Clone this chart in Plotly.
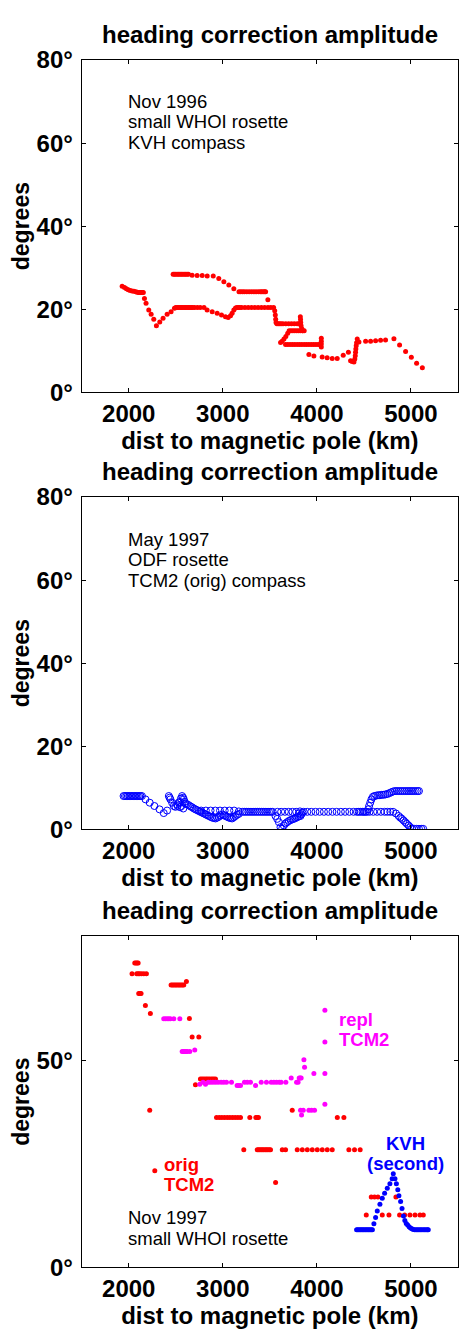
import plotly.graph_objects as go

# ---------------- Panel 1: Nov 1996, KVH compass ----------------
x1 = [1930, 1955, 1975, 1995, 2015, 2035, 2055, 2075, 2090, 2105, 2115, 2125, 2135, 2145, 2155,
      2167, 2184, 2213, 2238, 2266, 2294, 2330, 2365, 2408, 2450, 2486,
      2500, 2515, 2530, 2545, 2560, 2575, 2590, 2605, 2620, 2635, 2650, 2665, 2680, 2700, 2730, 2760, 2800,
      2833, 2887, 2940, 2986, 3028, 3057, 3082, 3099, 3117, 3135,
      3150, 3165, 3180, 3200, 3235, 3270, 3305, 3340, 3375, 3410, 3445, 3480, 3510, 3540,
      3552, 3558, 3562, 3566, 3575, 3590, 3605, 3620, 3640, 3670, 3700, 3730, 3760, 3790, 3810,
      3824, 3826, 3828, 3832, 3840, 3850, 3865, 3845, 3825, 3805, 3785, 3765, 3745, 3725, 3705,
      3690, 3670, 3650, 3630, 3614,
      3667, 3690, 3715, 3740, 3765, 3790, 3815, 3840, 3865, 3890, 3915, 3940, 3965, 3990, 4015, 4035,
      4047, 4047, 4047, 4047,
      3915, 3968, 4056, 4109, 4163, 4216, 4280, 4335, 4358, 4375, 4394, 4403, 4408, 4411, 4414, 4418, 4422, 4429, 4447,
      4518, 4571, 4624, 4677, 4730, 4819, 4879, 4943, 5004, 5060, 5121,
      2472, 2485, 2500, 2515, 2530, 2545, 2560, 2575, 2590, 2605, 2620, 2635,
      2674, 2727, 2781, 2834, 2898, 2957, 3011, 3064, 3117, 3172,
      3190, 3210, 3230, 3255, 3280, 3305, 3330, 3355, 3380, 3400, 3415, 3430, 3445, 3455, 3479]
y1 = [25.5, 25.2, 24.9, 24.7, 24.5, 24.4, 24.3, 24.2, 24.1, 24.0, 24.0, 24.0, 24.0, 24.0, 24.0,
      22.6, 21.4, 19.8, 18.8, 17.6, 16.0, 16.9, 17.8, 18.8, 19.4, 20.2,
      20.4, 20.4, 20.4, 20.4, 20.4, 20.4, 20.4, 20.4, 20.4, 20.4, 20.4, 20.4, 20.4, 20.4, 20.4, 20.4, 20.4,
      19.8, 19.4, 19.0, 18.6, 18.2, 18.0, 18.4, 19.0, 19.8, 20.3,
      20.4, 20.4, 20.4, 20.4, 20.4, 20.4, 20.4, 20.4, 20.4, 20.4, 20.4, 20.4, 20.4, 20.4,
      19.6, 18.6, 17.6, 16.8, 16.5, 16.5, 16.5, 16.5, 16.5, 16.5, 16.5, 16.5, 16.5, 16.5, 16.5,
      18.2, 17.5, 16.8, 16.0, 15.3, 14.8, 14.8, 14.8, 14.8, 14.8, 14.8, 14.8, 14.8, 14.8, 14.8,
      14.2, 13.4, 12.8, 12.3, 12.0,
      11.5, 11.5, 11.5, 11.5, 11.5, 11.5, 11.5, 11.5, 11.5, 11.5, 11.5, 11.5, 11.5, 11.5, 11.5, 11.5,
      10.9, 11.6, 12.3, 13.0,
      9.1, 8.7, 8.5, 8.3, 8.1, 8.1, 8.9, 9.6, 7.6, 7.4, 7.3, 8.0, 8.8, 9.6, 10.4, 11.2, 11.9, 12.8, 12.1,
      12.3, 12.3, 12.4, 12.5, 12.6, 12.9, 11.4, 9.8, 8.4, 7.0, 5.9,
      28.4, 28.4, 28.4, 28.4, 28.4, 28.4, 28.4, 28.4, 28.4, 28.4, 28.4, 28.4,
      28.2, 28.1, 28.1, 28.0, 28.0, 27.4, 26.6, 25.8, 24.9, 24.2,
      24.2, 24.2, 24.2, 24.2, 24.2, 24.2, 24.2, 24.2, 24.2, 24.2, 24.2, 24.2, 24.2, 24.2, 22.3]

# ---------------- Panel 2: May 1997, TCM2 (orig) compass ----------------
x2 = [1945, 1960, 1975, 1990, 2005, 2020, 2035, 2050, 2065, 2080, 2095, 2110, 2125, 2140,
      2178, 2223, 2273, 2327, 2372,
      2408, 2426, 2435, 2443, 2461, 2479, 2496, 2514, 2530, 2543, 2555, 2567, 2578, 2585, 2595, 2603,
      2520, 2545, 2560, 2580,
      2620, 2638, 2656, 2674, 2692, 2709, 2727, 2745, 2762, 2780, 2798, 2816, 2833, 2851, 2869, 2887,
      2905, 2922, 2940, 2957, 2975, 2993, 3010, 3028, 3046, 3064, 3082, 3099, 3117, 3135, 3152, 3170,
      2770, 2820, 2870, 2920, 2970, 3020, 3070, 3120, 3170, 3210,
      3230, 3250, 3270, 3290, 3310, 3330, 3350, 3370, 3390, 3410, 3430, 3450, 3470, 3490, 3510, 3530,
      3560, 3578, 3596, 3613, 3631, 3649, 3666, 3684, 3702, 3720, 3738, 3755, 3773, 3791, 3808, 3826,
      3810, 3820, 3835, 3845,
      3580, 3620, 3660, 3700, 3740, 3780,
      3860, 3898, 3940, 3985, 4030, 4075, 4120, 4165, 4210, 4255, 4300, 4345, 4390, 4426, 4445, 4465,
      4485, 4500, 4515, 4532,
      4545, 4555, 4567, 4580, 4595, 4610, 4630, 4650, 4670, 4690, 4710, 4730, 4750, 4770, 4790, 4810,
      4830, 4850, 4870, 4890, 4910, 4930, 4950, 4970, 4990, 5010, 5030, 5050, 5070, 5085,
      4560, 4600, 4640, 4680, 4720, 4750, 4780, 4810, 4840, 4869, 4887, 4904, 4922, 4940, 4957, 4975,
      4993, 5011, 5035, 5060, 5085, 5110, 5130]
y2 = [8.0, 8.0, 8.0, 8.0, 8.0, 8.0, 8.0, 8.0, 8.0, 8.0, 8.0, 8.0, 8.0, 8.0,
      7.2, 6.4, 5.6, 4.8, 3.9,
      4.5, 8.0, 7.6, 7.2, 6.4, 5.6, 5.4, 6.0, 6.4, 6.6, 7.4, 8.0, 7.6, 7.2, 6.6, 6.2,
      5.6, 5.3, 5.6, 5.0,
      6.0, 5.8, 5.5, 5.3, 5.0, 4.8, 4.6, 4.4, 4.2, 4.0, 3.8, 3.6, 3.4, 3.2, 3.0, 2.8,
      2.7, 2.6, 2.8, 3.0, 3.3, 3.6, 3.4, 3.2, 3.0, 2.8, 2.7, 2.6, 2.9, 3.2, 3.5, 3.7,
      4.5, 4.5, 4.5, 4.5, 4.5, 4.5, 4.5, 4.5, 4.3, 4.2,
      4.2, 4.2, 4.2, 4.2, 4.2, 4.2, 4.2, 4.2, 4.2, 4.2, 4.2, 4.2, 4.2, 4.2, 4.2, 4.2,
      3.2, 2.5, 1.7, 0.5, 0.1, 0.9, 1.4, 1.7, 2.0, 2.2, 2.4, 2.5, 2.7, 2.9, 3.1, 3.2,
      3.8, 4.3, 3.6, 4.0,
      4.2, 4.2, 4.2, 4.2, 4.2, 4.2,
      4.2, 4.2, 4.2, 4.2, 4.2, 4.2, 4.2, 4.2, 4.2, 4.2, 4.2, 4.2, 4.2, 4.2, 4.2, 4.2,
      4.2, 4.2, 4.2, 4.2,
      4.8, 5.6, 6.4, 7.2, 7.8, 8.0, 8.1, 8.2, 8.2, 8.3, 8.3, 8.4, 8.5, 8.7, 8.9, 9.1,
      9.2, 9.2, 9.2, 9.2, 9.2, 9.2, 9.2, 9.2, 9.2, 9.2, 9.2, 9.2, 9.2, 9.2,
      4.2, 4.2, 4.2, 4.2, 4.2, 4.2, 4.2, 4.2, 3.8, 3.2, 2.8, 2.5, 2.1, 1.7, 1.3, 0.9,
      0.5, 0.1, 0.1, 0.1, 0.1, 0.1, 0.1]

# ---------------- Panel 3: Nov 1997 ----------------
# orig TCM2 (red)
x3r = [2064, 2077, 2089, 2100,
       2035, 2085, 2100, 2115, 2135, 2160, 2188,
       2106, 2118, 2131, 2177, 2230,
       2450, 2465, 2480, 2495, 2510, 2525, 2540, 2555, 2570, 2585, 2613,
       2645, 2674, 2745, 2709,
       2762, 2780, 2798, 2816, 2833, 2851, 2869, 2887, 2904, 2922,
       2223, 2277,
       2933, 2962, 2990, 3018, 3047, 3075, 3103, 3131, 3160, 3188, 3287, 3351, 3365, 3379,
       3738, 4217, 4287,
       3223, 3366, 3380, 3394, 3408, 3422, 3436, 3451, 3465, 3479, 3493, 3507, 3632, 3667, 3791,
       3845, 3898, 3951, 4004, 4057, 4110, 4163, 4340, 4400, 4460,
       3561,
       4578, 4613, 4649, 4840,
       4525, 4695, 4766, 4879, 4933, 4989, 5043, 5096, 5131]
y3r = [73.5, 73.5, 73.5, 73.5,
       70.9, 70.9, 70.9, 70.9, 70.9, 70.9, 70.9,
       66.1, 66.1, 66.1, 63.2, 61.3,
       68.2, 68.2, 68.2, 68.2, 68.2, 68.2, 68.2, 68.2, 68.2, 68.2, 69.0,
       60.1, 55.6, 55.6, 44.1,
       45.5, 45.5, 45.5, 45.5, 45.5, 45.5, 45.5, 45.5, 45.5, 45.5,
       37.9, 23.3,
       36.2, 36.2, 36.2, 36.2, 36.2, 36.2, 36.2, 36.2, 36.2, 36.2, 36.2, 36.2, 36.2, 36.2,
       37.9, 36.2, 36.2,
       28.4, 28.4, 28.4, 28.4, 28.4, 28.4, 28.4, 28.4, 28.4, 28.4, 28.4, 28.4, 28.4, 28.4, 28.4,
       28.4, 28.4, 28.4, 28.4, 28.4, 28.4, 28.4, 28.4, 28.4, 28.4,
       20.5,
       17.0, 17.0, 17.0, 17.0,
       12.6, 12.6, 12.6, 12.6, 12.6, 12.6, 12.6, 12.6, 12.6]
# repl TCM2 (magenta)
x3m = [2372, 2390, 2408, 2426, 2443, 2479, 2543,
       2568, 2580, 2592, 2608, 2621, 2649, 2702,
       2755, 2790, 2816, 2845, 2869, 2895, 2922, 2950, 2982, 3010, 3039, 3092, 3152, 3170, 3188,
       3230, 3260, 3294, 3348, 3408, 3464, 3514, 3543, 3571, 3600, 3620, 3670, 3727, 3784, 3800,
       3812, 3822, 3833,
       3862, 3869, 3968, 4085, 4085, 4085,
       4085, 3826, 3855, 3837, 3915, 3943, 3975]
y3m = [60.0, 60.0, 60.0, 60.0, 60.0, 60.0, 60.0,
       52.1, 52.1, 52.1, 52.1, 52.1, 52.1, 52.5,
       44.2, 44.7, 44.2, 44.7, 44.7, 44.7, 44.7, 44.7, 44.7, 44.7, 44.7, 44.7, 43.9, 43.9, 43.9,
       44.7, 44.7, 44.7, 43.9, 44.7, 44.7, 44.7, 44.7, 44.7, 44.7, 44.7, 44.7, 45.7, 44.7, 44.7,
       45.7, 45.7, 45.7,
       50.1, 48.3, 46.8, 46.8, 54.4, 62.1,
       39.4, 37.9, 37.9, 36.8, 37.9, 37.9, 37.9]
# KVH second (blue)
x3b = [4422, 4435, 4448, 4461, 4474, 4487, 4500, 4513, 4526, 4539, 4552, 4565, 4578, 4590,
       4606, 4624, 4642, 4670, 4695, 4720, 4748, 4776, 4800, 4812,
       4830, 4845, 4860, 4872, 4890, 4905, 4920, 4935, 4950, 4965, 4980, 4995, 5010, 5025,
       5040, 5055, 5070, 5085, 5100, 5115, 5130, 5145, 5160, 5175, 5184]
y3b = [9.05, 9.05, 9.05, 9.05, 9.05, 9.05, 9.05, 9.05, 9.05, 9.05, 9.05, 9.05, 9.05, 9.05,
       10.5, 12.0, 13.6, 15.2, 16.7, 17.9, 19.1, 20.2, 21.4, 22.6,
       21.4, 20.2, 18.7, 17.3, 15.9, 14.2, 12.4, 11.3, 10.6, 10.2, 9.8, 9.5, 9.3, 9.1,
       9.05, 9.05, 9.05, 9.05, 9.05, 9.05, 9.05, 9.05, 9.05, 9.05, 9.05]

x_ticks = [2000, 3000, 4000, 5000]
y_ticks_12 = [0, 20, 40, 60, 80]
y_ticktext_12 = ["0°", "20°", "40°", "60°", "80°"]
y_ticks_3 = [0, 50]
y_ticktext_3 = ["0°", "50°"]

title_text = "heading correction amplitude"
xlabel = "dist to magnetic pole (km)"
ylabel = "degrees"

FONT = "Liberation Sans, Arial, Helvetica, sans-serif"
RED = "#ff0000"
BLUE = "#0000ff"
MAGENTA = "#ff00ff"

H = 1342.0
W = 459.0

fig = go.Figure()
fig.add_trace(go.Scatter(x=x1, y=y1, mode="markers", xaxis="x", yaxis="y",
                         marker=dict(color=RED, size=5, line=dict(width=0))))
fig.add_trace(go.Scatter(x=x2, y=y2, mode="markers", xaxis="x2", yaxis="y2",
                         marker=dict(symbol="circle-open", color=BLUE, size=7, line=dict(width=1, color=BLUE))))
fig.add_trace(go.Scatter(x=x3r, y=y3r, mode="markers", xaxis="x3", yaxis="y3",
                         marker=dict(color=RED, size=5, line=dict(width=0))))
fig.add_trace(go.Scatter(x=x3m, y=y3m, mode="markers", xaxis="x3", yaxis="y3",
                         marker=dict(color=MAGENTA, size=5, line=dict(width=0))))
fig.add_trace(go.Scatter(x=x3b, y=y3b, mode="markers", xaxis="x3", yaxis="y3",
                         marker=dict(color=BLUE, size=5, line=dict(width=0))))

# pixel boxes (top, bottom) of the three plot areas
boxes = [(47, 386), (493, 832), (941, 1279)]
xdom = [81.7 / W, 458.0 / W]
BOLD = dict(family=FONT, size=24, color="black", weight="bold")

def xax(anchor):
    return dict(domain=xdom, anchor=anchor, range=[1500, 5500], tickvals=x_ticks,
                ticks="inside", ticklen=4, tickcolor="black", mirror="ticks",
                showline=True, linecolor="black", linewidth=1, showgrid=False, zeroline=False,
                tickfont=BOLD, ticklabelstandoff=0,
                title=dict(text=xlabel, standoff=0, font=BOLD))

def yax(anchor, dom, tv, tt):
    return dict(domain=dom, anchor=anchor, range=[0, 80], tickvals=tv, ticktext=tt,
                ticks="inside", ticklen=4, tickcolor="black", mirror="ticks",
                showline=True, linecolor="black", linewidth=1, showgrid=False, zeroline=False,
                tickfont=BOLD, ticklabelstandoff=3,
                title=dict(text=ylabel, standoff=0,
                           font=dict(family=FONT, size=23, color="black", weight="bold")))

doms = [[1 - b / H, 1 - t / H] for (t, b) in boxes]
layout = dict(
    width=459, height=1342, autosize=False,
    margin=dict(l=0, r=0, t=0, b=0, pad=0),
    paper_bgcolor="white", plot_bgcolor="white", showlegend=False,
    xaxis=xax("y"), yaxis=yax("x", doms[0], y_ticks_12, y_ticktext_12),
    xaxis2=xax("y2"), yaxis2=yax("x2", doms[1], y_ticks_12, y_ticktext_12),
    xaxis3=xax("y3"), yaxis3=yax("x3", doms[2], y_ticks_3, y_ticktext_3),
)
fig.update_layout(**layout)

ann = []
title_y = [21, 467, 915]
for ty in title_y:
    ann.append(dict(text="<b>" + title_text + "</b>", x=(81.7 + 458) / 2 / W, y=1 - ty / H,
                    xref="paper", yref="paper", xanchor="center", yanchor="middle", showarrow=False,
                    borderpad=0, font=dict(family=FONT, size=24, color="black")))

def txt(s, xp, yp, color="black", bold=False, size=18.5, anchor="left"):
    ann.append(dict(text=("<b>" + s + "</b>") if bold else s, x=xp / W, y=1 - yp / H,
                    xref="paper", yref="paper", xanchor=anchor, yanchor="middle", showarrow=False,
                    borderpad=0, font=dict(family=FONT, size=size, color=color)))

for s, yp in [("Nov 1996", 89), ("small WHOI rosette", 110), ("KVH compass", 131)]:
    txt(s, 127, yp)
for s, yp in [("May 1997", 536), ("ODF rosette", 557), ("TCM2 (orig) compass", 578)]:
    txt(s, 127, yp)
for s, yp in [("Nov 1997", 1228.5), ("small WHOI rosette", 1249.5)]:
    txt(s, 127, yp)
txt("repl", 338, 1026, MAGENTA, True, 18.5)
txt("TCM2", 338, 1047, MAGENTA, True, 18.5)
txt("orig", 163, 1174, RED, True, 18.5)
txt("TCM2", 163, 1195, RED, True, 18.5)
txt("KVH", 405, 1152.5, BLUE, True, 18.5, "center")
txt("(second)", 405, 1173.5, BLUE, True, 18.5, "center")

fig.update_layout(annotations=ann)
fig.write_html("out.html", post_script="document.body.style.margin='0';document.body.style.padding='0';")
